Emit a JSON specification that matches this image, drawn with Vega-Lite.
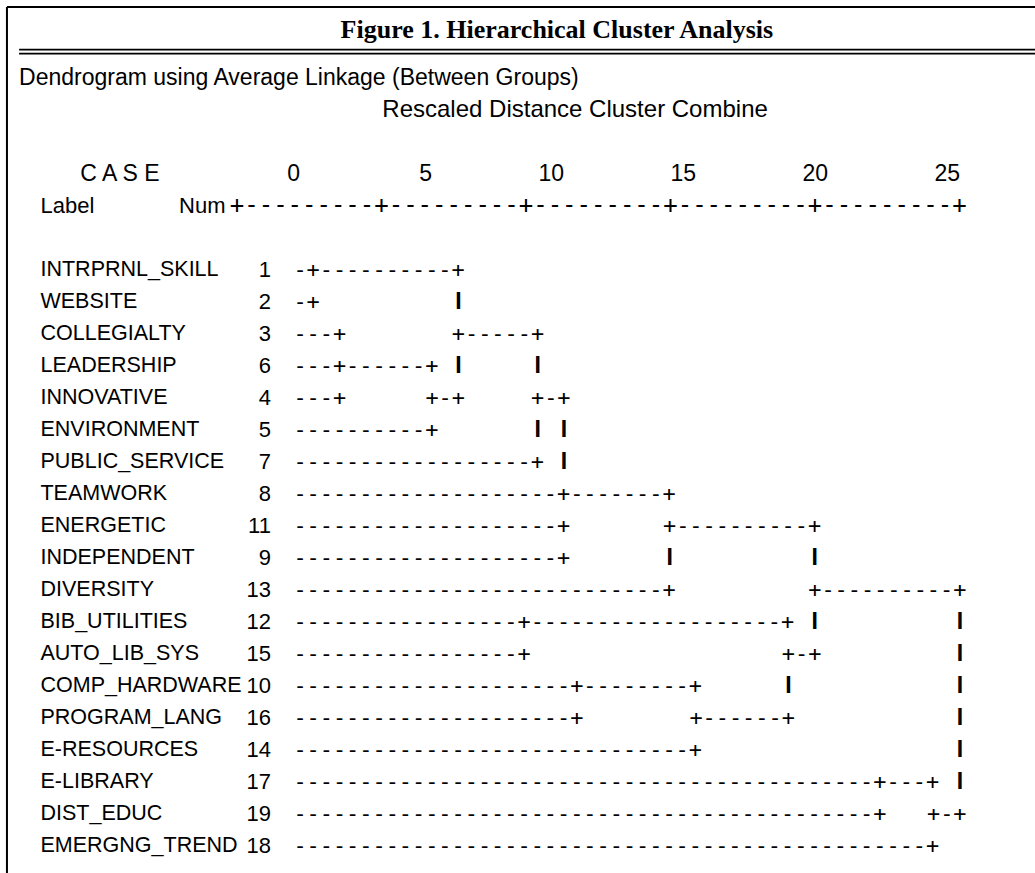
{
  "$schema": "https://vega.github.io/schema/vega-lite/v6.json",
  "width": 1035,
  "height": 873,
  "autosize": {"type": "none"},
  "padding": 0,
  "background": "#ffffff",
  "config": {"view": {"stroke": null}, "text": {"color": "#000000"}},
  "datasets": {
    "leaves": [
      {"line": 7, "label": "INTRPRNL_SKILL", "num": 1},
      {"line": 8, "label": "WEBSITE", "num": 2},
      {"line": 9, "label": "COLLEGIALTY", "num": 3},
      {"line": 10, "label": "LEADERSHIP", "num": 6},
      {"line": 11, "label": "INNOVATIVE", "num": 4},
      {"line": 12, "label": "ENVIRONMENT", "num": 5},
      {"line": 13, "label": "PUBLIC_SERVICE", "num": 7},
      {"line": 14, "label": "TEAMWORK", "num": 8},
      {"line": 15, "label": "ENERGETIC", "num": 11},
      {"line": 16, "label": "INDEPENDENT", "num": 9},
      {"line": 17, "label": "DIVERSITY", "num": 13},
      {"line": 18, "label": "BIB_UTILITIES", "num": 12},
      {"line": 19, "label": "AUTO_LIB_SYS", "num": 15},
      {"line": 20, "label": "COMP_HARDWARE", "num": 10},
      {"line": 21, "label": "PROGRAM_LANG", "num": 16},
      {"line": 22, "label": "E-RESOURCES", "num": 14},
      {"line": 23, "label": "E-LIBRARY", "num": 17},
      {"line": 24, "label": "DIST_EDUC", "num": 19},
      {"line": 25, "label": "EMERGNG_TREND", "num": 18}
    ],
    "runs": [
      {"line": 7, "d": 0, "t": "-+----------+"},
      {"line": 8, "d": 0, "t": "-+"},
      {"line": 8, "d": 6, "t": "I"},
      {"line": 9, "d": 0, "t": "---+"},
      {"line": 9, "d": 6, "t": "+-----+"},
      {"line": 10, "d": 0, "t": "---+------+"},
      {"line": 10, "d": 6, "t": "I"},
      {"line": 10, "d": 9, "t": "I"},
      {"line": 11, "d": 0, "t": "---+"},
      {"line": 11, "d": 5, "t": "+-+"},
      {"line": 11, "d": 9, "t": "+-+"},
      {"line": 12, "d": 0, "t": "----------+"},
      {"line": 12, "d": 9, "t": "I"},
      {"line": 12, "d": 10, "t": "I"},
      {"line": 13, "d": 0, "t": "------------------+"},
      {"line": 13, "d": 10, "t": "I"},
      {"line": 14, "d": 0, "t": "--------------------+-------+"},
      {"line": 15, "d": 0, "t": "--------------------+"},
      {"line": 15, "d": 14, "t": "+----------+"},
      {"line": 16, "d": 0, "t": "--------------------+"},
      {"line": 16, "d": 14, "t": "I"},
      {"line": 16, "d": 19.5, "t": "I"},
      {"line": 17, "d": 0, "t": "----------------------------+"},
      {"line": 17, "d": 19.5, "t": "+----------+"},
      {"line": 18, "d": 0, "t": "-----------------+-------------------+"},
      {"line": 18, "d": 19.5, "t": "I"},
      {"line": 18, "d": 25, "t": "I"},
      {"line": 19, "d": 0, "t": "-----------------+"},
      {"line": 19, "d": 18.5, "t": "+-+"},
      {"line": 19, "d": 25, "t": "I"},
      {"line": 20, "d": 0, "t": "---------------------+--------+"},
      {"line": 20, "d": 18.5, "t": "I"},
      {"line": 20, "d": 25, "t": "I"},
      {"line": 21, "d": 0, "t": "---------------------+"},
      {"line": 21, "d": 15, "t": "+------+"},
      {"line": 21, "d": 25, "t": "I"},
      {"line": 22, "d": 0, "t": "------------------------------+"},
      {"line": 22, "d": 25, "t": "I"},
      {"line": 23, "d": 0, "t": "--------------------------------------------+---+"},
      {"line": 23, "d": 25, "t": "I"},
      {"line": 24, "d": 0, "t": "--------------------------------------------+"},
      {"line": 24, "d": 24, "t": "+-+"},
      {"line": 25, "d": 0, "t": "------------------------------------------------+"}
    ],
    "ticks": [{"v": 0}, {"v": 5}, {"v": 10}, {"v": 15}, {"v": 20}, {"v": 25}]
  },
  "layer": [
    {
      "data": {"values": [{}]},
      "mark": {"type": "rule", "color": "#000000", "strokeWidth": 2},
      "encoding": {
        "x": {"datum": -11.1, "type": "quantitative", "scale": {"domain": [0, 25], "range": [300, 960], "zero": false, "nice": false}, "axis": null},
        "x2": {"datum": 28.5},
        "y": {"datum": -1.22, "type": "quantitative", "scale": {"domain": [7, 25], "range": [270, 846], "zero": false, "nice": false}, "axis": null}
      }
    },
    {
      "data": {"values": [{}]},
      "mark": {"type": "rule", "color": "#000000", "strokeWidth": 2},
      "encoding": {
        "x": {"datum": -11.1, "type": "quantitative"},
        "y": {"datum": -1.22, "type": "quantitative"},
        "y2": {"datum": 26.5}
      }
    },
    {
      "data": {"values": [{}]},
      "mark": {"type": "rule", "color": "#000000", "strokeWidth": 1.8},
      "encoding": {
        "x": {"datum": -10.64, "type": "quantitative"},
        "x2": {"datum": 28.5},
        "y": {"datum": 0.116, "type": "quantitative"}
      }
    },
    {
      "data": {"values": [{}]},
      "mark": {"type": "rule", "color": "#000000", "strokeWidth": 1.8},
      "encoding": {
        "x": {"datum": -10.64, "type": "quantitative"},
        "x2": {"datum": 28.5},
        "y": {"datum": 0.241, "type": "quantitative"}
      }
    },
    {
      "data": {"values": [{"t": "Figure 1. Hierarchical Cluster Analysis"}]},
      "mark": {"type": "text", "font": "Liberation Serif", "fontWeight": "bold", "fontSize": 26, "align": "center", "baseline": "middle"},
      "encoding": {
        "x": {"datum": 9.73, "type": "quantitative"},
        "y": {"datum": -0.5, "type": "quantitative"},
        "text": {"field": "t"}
      }
    },
    {
      "data": {"values": [{"line": 1, "t": "Dendrogram using Average Linkage (Between Groups)"}]},
      "mark": {"type": "text", "font": "Liberation Sans", "fontSize": 23, "align": "left", "baseline": "middle"},
      "encoding": {
        "x": {"datum": -10.64, "type": "quantitative"},
        "y": {"field": "line", "type": "quantitative"},
        "text": {"field": "t"}
      }
    },
    {
      "data": {"values": [{"line": 2, "t": "Rescaled Distance Cluster Combine"}]},
      "mark": {"type": "text", "font": "Liberation Sans", "fontSize": 24, "align": "center", "baseline": "middle"},
      "encoding": {
        "x": {"datum": 10.42, "type": "quantitative"},
        "y": {"field": "line", "type": "quantitative"},
        "text": {"field": "t"}
      }
    },
    {
      "data": {"values": [{"line": 4, "t": "C A S E"}]},
      "mark": {"type": "text", "font": "Liberation Sans", "fontSize": 23, "align": "center", "baseline": "middle"},
      "encoding": {
        "x": {"datum": -6.82, "type": "quantitative"},
        "y": {"field": "line", "type": "quantitative"},
        "text": {"field": "t"}
      }
    },
    {
      "data": {"values": [{"line": 5, "t": "Label"}]},
      "mark": {"type": "text", "font": "Liberation Sans", "fontSize": 22, "align": "left", "baseline": "middle"},
      "encoding": {
        "x": {"datum": -9.83, "type": "quantitative"},
        "y": {"field": "line", "type": "quantitative"},
        "text": {"field": "t"}
      }
    },
    {
      "data": {"values": [{"line": 5, "t": "Num"}]},
      "mark": {"type": "text", "font": "Liberation Sans", "fontSize": 22, "align": "center", "baseline": "middle"},
      "encoding": {
        "x": {"datum": -3.7, "type": "quantitative"},
        "y": {"field": "line", "type": "quantitative"},
        "text": {"field": "t"}
      }
    },
    {
      "data": {"values": [{"line": 5, "t": "+---------+---------+---------+---------+---------+"}]},
      "mark": {"type": "text", "font": "DejaVu Sans Mono", "fontSize": 24, "align": "left", "baseline": "middle", "dx": -7.23},
      "encoding": {
        "x": {"datum": -2.386, "type": "quantitative"},
        "y": {"field": "line", "type": "quantitative"},
        "text": {"field": "t"}
      }
    },
    {
      "data": {"name": "ticks"},
      "mark": {"type": "text", "font": "Liberation Sans", "fontSize": 23, "align": "right", "baseline": "middle"},
      "encoding": {
        "x": {"field": "v", "type": "quantitative"},
        "y": {"datum": 4, "type": "quantitative"},
        "text": {"field": "v", "type": "quantitative"}
      }
    },
    {
      "data": {"name": "leaves"},
      "mark": {"type": "text", "font": "Liberation Sans", "fontSize": 21.5, "align": "left", "baseline": "middle"},
      "encoding": {
        "x": {"datum": -9.83, "type": "quantitative"},
        "y": {"field": "line", "type": "quantitative"},
        "text": {"field": "label"}
      }
    },
    {
      "data": {"name": "leaves"},
      "mark": {"type": "text", "font": "Liberation Sans", "fontSize": 22, "align": "right", "baseline": "middle"},
      "encoding": {
        "x": {"datum": -1.1, "type": "quantitative"},
        "y": {"field": "line", "type": "quantitative"},
        "text": {"field": "num", "type": "quantitative"}
      }
    },
    {
      "data": {"name": "runs"},
      "transform": [{"filter": "datum.t !== 'I'"}],
      "mark": {"type": "text", "font": "DejaVu Sans Mono", "fontSize": 21.9, "align": "left", "baseline": "middle", "dx": -6.6},
      "encoding": {
        "x": {"field": "d", "type": "quantitative"},
        "y": {"field": "line", "type": "quantitative"},
        "text": {"field": "t"}
      }
    },
    {
      "data": {"name": "runs"},
      "transform": [{"filter": "datum.t === 'I'"}],
      "mark": {"type": "text", "font": "Liberation Sans", "fontWeight": "bold", "fontSize": 23, "align": "center", "baseline": "middle"},
      "encoding": {
        "x": {"field": "d", "type": "quantitative"},
        "y": {"field": "line", "type": "quantitative"},
        "text": {"field": "t"}
      }
    }
  ]
}
